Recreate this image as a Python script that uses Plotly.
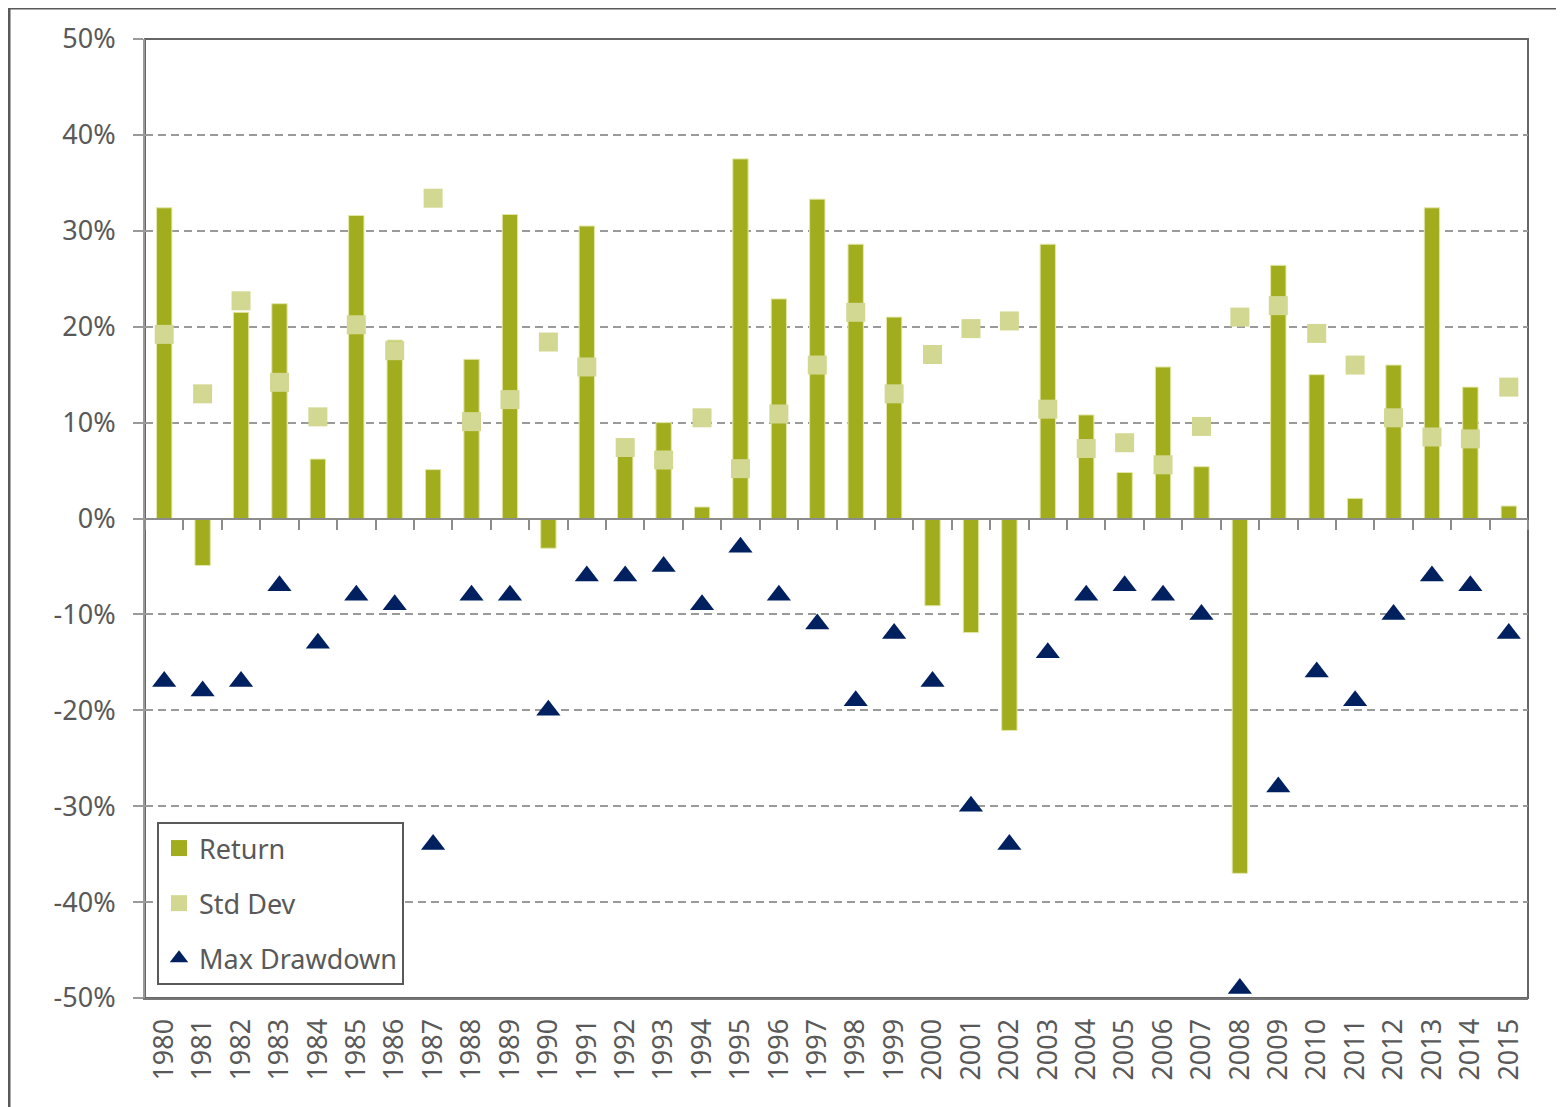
import plotly.graph_objects as go

years = [str(y) for y in range(1980, 2016)]
returns = [32.4, -4.9, 21.5, 22.4, 6.2, 31.6, 18.6, 5.1, 16.6, 31.7, -3.1, 30.5,
           7.6, 10.0, 1.2, 37.5, 22.9, 33.3, 28.6, 21.0, -9.1, -11.9, -22.1, 28.6,
           10.8, 4.8, 15.8, 5.4, -37.0, 26.4, 15.0, 2.1, 16.0, 32.4, 13.7, 1.3]
std_dev = [19.2, 13.0, 22.7, 14.2, 10.6, 20.2, 17.5, 33.4, 10.1, 12.4, 18.4, 15.8,
           7.4, 6.1, 10.5, 5.2, 10.9, 16.0, 21.5, 13.0, 17.1, 19.8, 20.6, 11.4,
           7.3, 7.9, 5.6, 9.6, 21.0, 22.2, 19.3, 16.0, 10.5, 8.5, 8.3, 13.7]
max_drawdown = [-17, -18, -17, -7, -13, -8, -9, -34, -8, -8, -20, -6,
                -6, -5, -9, -3, -8, -11, -19, -12, -17, -30, -34, -14,
                -8, -7, -8, -10, -49, -28, -16, -19, -10, -6, -7, -12]
y_ticks = [-50, -40, -30, -20, -10, 0, 10, 20, 30, 40, 50]
y_tick_labels = ["-50%", "-40%", "-30%", "-20%", "-10%", "0%", "10%", "20%", "30%", "40%", "50%"]

GREEN = "#A2AD1E"
LIGHT = "#D2D891"
NAVY = "#002060"
TEXT = "#595959"
FONT = "Noto Sans"
FS = 27

fig = go.Figure()
fig.add_trace(go.Bar(
    x=years, y=returns, name="Return", xaxis="x", yaxis="y",
    marker=dict(color=GREEN, line=dict(color="#E3E7A8", width=1)),
    showlegend=False,
))
# legend key for the bars (square swatch, no data points)
fig.add_trace(go.Scatter(
    x=[None], y=[None], name="Return", mode="markers", xaxis="x2", yaxis="y",
    marker=dict(symbol="square", size=18, color=GREEN),
    legendgroup="a",
))
fig.add_trace(go.Scatter(
    x=years, y=std_dev, name="Std Dev", mode="markers", xaxis="x2", yaxis="y",
    marker=dict(symbol="square", size=19, color=LIGHT),
    legendgroup="b",
))
fig.add_trace(go.Scatter(
    x=years, y=max_drawdown, name="Max Drawdown", mode="markers", xaxis="x2", yaxis="y",
    marker=dict(symbol="triangle-up", size=21, color=NAVY),
    legendgroup="c",
))

# page body has an 8px margin; size the figure so the plot lands where the reference has it
W, H = 1556, 1099
L, R, T, B = 137, 36, 31, 109
pw, ph = W - L - R, H - T - B


def px_x(p):
    return (p - L) / pw


def px_y(p):
    return (H - B - p) / ph


fig.update_layout(
    width=W, height=H,
    margin=dict(l=L, r=R, t=T, b=B),
    paper_bgcolor="white", plot_bgcolor="white",
    font=dict(family=FONT, size=FS, color=TEXT),
    bargap=0.6,
    showlegend=True,
    legend=dict(
        x=px_x(149), y=px_y(977), xanchor="left", yanchor="bottom",
        bordercolor=TEXT, borderwidth=2, bgcolor="white",
        font=dict(family=FONT, size=FS, color=TEXT),
        traceorder="grouped", tracegroupgap=17,
        itemsizing="trace",
    ),
    xaxis=dict(
        type="category", categoryarray=years, range=[-0.5, len(years) - 0.5],
        tickangle=-90, ticks="", ticklabelstandoff=8,
        showline=True, linecolor="#777777", linewidth=2,
        showgrid=False, zeroline=False,
        tickfont=dict(family=FONT, size=FS, color=TEXT),
    ),
    xaxis2=dict(
        type="category", categoryarray=years, range=[-0.5, len(years) - 0.5],
        overlaying="x", anchor="free", position=0.5, side="bottom",
        showline=True, linecolor="#8C8C8C", linewidth=2,
        ticks="outside", tickson="boundaries", ticklen=10, tickwidth=2, tickcolor="#8C8C8C",
        showticklabels=False, showgrid=False, zeroline=False,
    ),
    yaxis=dict(
        range=[-50, 50], tickvals=y_ticks, ticktext=y_tick_labels,
        showgrid=True, gridcolor="#9A9A9A", gridwidth=1.5, griddash="8px,5px",
        showline=True, linecolor="#9A9A9A", linewidth=2,
        ticks="outside", ticklen=10, tickcolor="#9A9A9A", tickwidth=2,
        ticklabelstandoff=12, zeroline=False,
        tickfont=dict(family=FONT, size=FS, color=TEXT),
    ),
    shapes=[
        dict(type="rect", xref="paper", yref="paper", x0=0, x1=1, y0=0, y1=1,
             line=dict(color="#666666", width=2), layer="below"),
        dict(type="rect", xref="paper", yref="paper",
             x0=px_x(1), x1=px_x(W + 20), y0=px_y(H + 20), y1=px_y(0),
             line=dict(color="#595959", width=3), layer="below"),
    ],
)

fig.write_html("out.html")
